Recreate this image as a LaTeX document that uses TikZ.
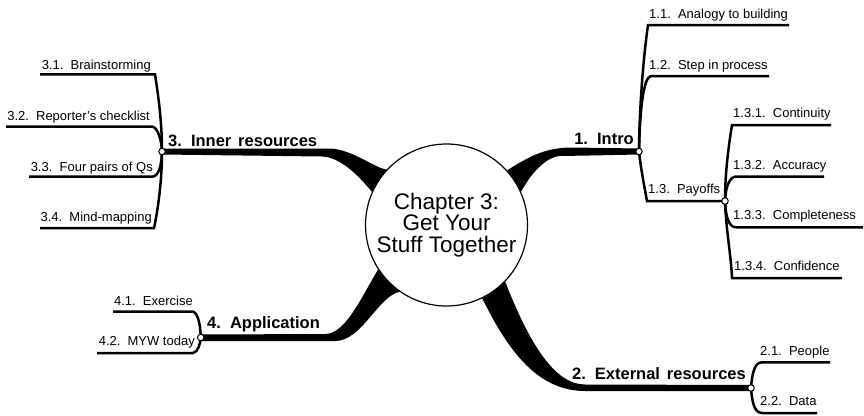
\documentclass[tikz,border=0pt]{standalone}
\usepackage{fontspec}
\setmainfont{Liberation Sans}
\newfontfamily\boughfont{Liberation Sans}[WordSpace=1.5]
\usetikzlibrary{calc,backgrounds}
\newcommand\numgap{\hspace{0.55em}}
\begin{document}
\begin{tikzpicture}[x=1pt,y=-1pt,
  twig/.style={draw=black,line width=2.5pt},
  limb/.style={fill=black},
  knot/.style={circle,draw=black,fill=white,line width=1pt,inner sep=0pt,minimum size=6.5pt},
  leaf/.style={font=\fontsize{13}{15}\selectfont,inner sep=0pt,text=black},
  bough/.style={font=\boughfont\bfseries\fontsize{16.5}{18}\selectfont,inner sep=0pt,text=black},
  hub/.style={circle,draw=black,fill=white,line width=1.2pt,inner sep=0pt,minimum size=162pt,
    align=center,font=\fontsize{22.5}{21.8}\selectfont}]
\useasboundingbox (0,0) rectangle (864,415);

% central topic
\node[hub] (c) at (446.5,225) {Chapter 3:\\Get Your\\Stuff Together};

% junction points
\coordinate (j1) at (639,151.5);
\coordinate (j2) at (751,388);
\coordinate (j3) at (162,151.5);
\coordinate (j4) at (200.7,337.5);
\coordinate (j13) at (725,201);

% tapered main branches, behind the hub
\begin{scope}[on background layer]
  % 1. Intro
  \fill[limb] (c.42) .. controls (528,157) and (545,147.5) .. (572,147.5)
    -- ($(j1)+(0,-3)$) -- ($(j1)+(0,3)$) -- (590,155.5) -- (560,156)
    .. controls (545,157) and (530,175) .. (c.24) -- cycle;
  % 3. Inner resources
  \fill[limb] (c.137) .. controls (378,170) and (352,149) .. (330,148.5)
    -- ($(j3)+(0,-3)$) -- ($(j3)+(0,3)$) -- (322,156.5)
    .. controls (340,157) and (358,175) .. (c.156) -- cycle;
  % 4. Application
  \fill[limb] (c.213) .. controls (360,300) and (345,334) .. (325,334)
    -- ($(j4)+(0,-3)$) -- ($(j4)+(0,3.5)$) -- (335,341)
    .. controls (362,341) and (378,296) .. (c.235) -- cycle;
  % 2. External resources
  \fill[limb] (c.296) .. controls (510,355) and (540,391) .. (585,391)
    -- ($(j2)+(0,3)$) -- ($(j2)+(0,-3)$) -- (585,384.5)
    .. controls (555,384.5) and (530,345) .. (c.316) -- cycle;
\end{scope}

% free ends and corners of the sub-branches
\coordinate (t11) at (789,25);    \coordinate (k11) at (648,25);
\coordinate (t12) at (769,76);    \coordinate (k12) at (651,76);
\coordinate (k13) at (647,201);
\coordinate (t131) at (831,125);  \coordinate (k131) at (732,125);
\coordinate (t132) at (824,176.5);\coordinate (k132) at (736,176.5);
\coordinate (t133) at (863,227.3);\coordinate (k133) at (736,227.3);
\coordinate (t134) at (842,278);  \coordinate (k134) at (732,278);
\coordinate (t21) at (830,362.3); \coordinate (k21) at (762,362.3);
\coordinate (t22) at (817,413);   \coordinate (k22) at (762,413);
\coordinate (t31) at (40,74.3);   \coordinate (k31) at (155,74.3);
\coordinate (t32) at (6,126.5);   \coordinate (k32) at (152,126.5);
\coordinate (t33) at (29,176.7);  \coordinate (k33) at (152,176.7);
\coordinate (t34) at (40,228);    \coordinate (k34) at (154,228);
\coordinate (t41) at (113,311.7); \coordinate (k41) at (193,311.7);
\coordinate (t42) at (97,353);    \coordinate (k42) at (193,353);

% sub-branches
\draw[twig] (t11) -- (k11) .. controls (643,60) and (639.3,110) .. (j1);
\draw[twig] (t12) -- (k12) .. controls (644,77) and (640,105) .. (j1);
\draw[twig] (j1) .. controls (641,170) and (645,190) .. (k13) -- (j13);
\draw[twig] (t131) -- (k131) .. controls (728,150) and (725,175) .. (j13);
\draw[twig] (t132) -- (k132) .. controls (729,177) and (725.5,188) .. (j13);
\draw[twig] (j13) .. controls (725.5,214) and (728,227.3) .. (k133) -- (t133);
\draw[twig] (j13) .. controls (726,230) and (731,255) .. (k134) -- (t134);
\draw[twig] (j2) .. controls (752,375) and (754,362.3) .. (k21) -- (t21);
\draw[twig] (j2) .. controls (752,401) and (754,413) .. (k22) -- (t22);
\draw[twig] (t31) -- (k31) .. controls (159,100) and (162,125) .. (j3);
\draw[twig] (t32) -- (k32) .. controls (158,127.5) and (161.5,140) .. (j3);
\draw[twig] (j3) .. controls (161.5,165) and (159,176.7) .. (k33) -- (t33);
\draw[twig] (j3) .. controls (162,180) and (158,210) .. (k34) -- (t34);
\draw[twig] (t41) -- (k41) .. controls (198,313) and (200.5,325) .. (j4);
\draw[twig] (j4) .. controls (200.5,343) and (198,352.5) .. (k42) -- (t42);

% junction knots
\foreach \j in {j1,j2,j3,j4,j13} \node[knot] at (\j) {};

% main branch labels
\node[bough,anchor=base east] (b1) at (634,144) {1.\numgap Intro};
\node[bough,anchor=base east] (b2) at (746,379.5) {2.\numgap External resources};
\node[bough,anchor=base west] (b3) at (168,146) {3.\numgap Inner resources};
\node[bough,anchor=base west] (b4) at (207,328.5) {4.\numgap Application};

% sub-branch labels
\node[leaf,anchor=base west] (l11) at (649,18) {1.1.\numgap Analogy to building};
\node[leaf,anchor=base west] (l12) at (649,69) {1.2.\numgap Step in process};
\node[leaf,anchor=base west] (l13) at (648,193.5) {1.3.\numgap Payoffs};
\node[leaf,anchor=base west] (l131) at (733,117.5) {1.3.1.\numgap Continuity};
\node[leaf,anchor=base west] (l132) at (733,169) {1.3.2.\numgap Accuracy};
\node[leaf,anchor=base west] (l133) at (733,219.5) {1.3.3.\numgap Completeness};
\node[leaf,anchor=base west] (l134) at (734,270) {1.3.4.\numgap Confidence};
\node[leaf,anchor=base west] (l21) at (760,355.7) {2.1.\numgap People};
\node[leaf,anchor=base west] (l22) at (760,405.5) {2.2.\numgap Data};
\node[leaf,anchor=base east] (l31) at (151,69.5) {3.1.\numgap Brainstorming};
\node[leaf,anchor=base east] (l32) at (150,120) {3.2.\numgap Reporter’s checklist};
\node[leaf,anchor=base east] (l33) at (153,171) {3.3.\numgap Four pairs of Qs};
\node[leaf,anchor=base east] (l34) at (152,221.7) {3.4.\numgap Mind-mapping};
\node[leaf,anchor=base east] (l41) at (193,305) {4.1.\numgap Exercise};
\node[leaf,anchor=base east] (l42) at (195,345.5) {4.2.\numgap MYW today};
\end{tikzpicture}
\end{document}
